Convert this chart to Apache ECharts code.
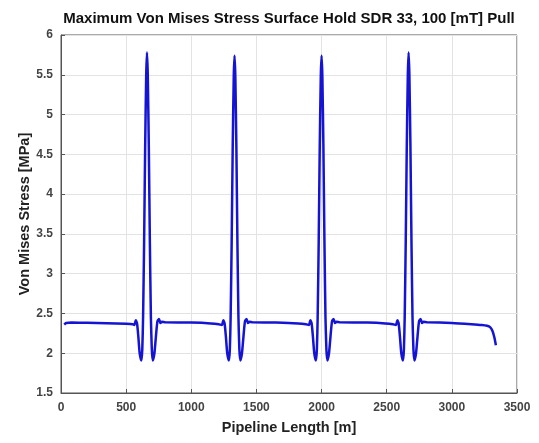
<!DOCTYPE html>
<html>
<head>
<meta charset="utf-8">
<script src="https://cdn.jsdelivr.net/npm/echarts@6/dist/echarts.min.js"></script>
<style>html,body{margin:0;padding:0;background:#fff}#c{width:539px;height:443px}</style>
</head>
<body>
<div id="c"></div>
<script>
var chartTitle = 'Maximum Von Mises Stress Surface Hold SDR 33, 100 [mT] Pull';
var xName = 'Pipeline Length [m]';
var yName = 'Von Mises Stress [MPa]';
var xTicks = [0, 500, 1000, 1500, 2000, 2500, 3000, 3500];
var yTicks = [1.5, 2, 2.5, 3, 3.5, 4, 4.5, 5, 5.5, 6];

var lengths = [
  25, 40, 80, 200, 350, 500, 550,
  563, 574, 584, 594, 604, 617, 624, 630, 638, 646, 654, 660, 666, 674, 682, 690, 697, 704, 717, 728, 740, 752, 763, 775, 800,
  1000, 1150, 1210,
  1235, 1246, 1256, 1266, 1276, 1289, 1296, 1302, 1310, 1318, 1326, 1332, 1338, 1346, 1354, 1362, 1369, 1376, 1389, 1400, 1412, 1424, 1435, 1447, 1470,
  1650, 1820, 1880,
  1903, 1914, 1924, 1934, 1944, 1957, 1964, 1970, 1978, 1986, 1994, 2000, 2006, 2014, 2022, 2030, 2037, 2044, 2057, 2068, 2080, 2092, 2103, 2115, 2140,
  2350, 2490, 2548,
  2571, 2582, 2592, 2602, 2612, 2625, 2632, 2638, 2646, 2654, 2662, 2668, 2674, 2682, 2690, 2698, 2705, 2712, 2725, 2736, 2748, 2760, 2771, 2783, 2810,
  3000, 3150, 3230, 3270, 3295, 3312, 3326, 3338
];
var stress = [
  2.36, 2.38, 2.385, 2.383, 2.378, 2.37, 2.365,
  2.355, 2.415, 2.37, 2.2, 2.0, 1.91, 2.05, 2.45, 3.4, 4.6, 5.5, 5.78, 5.5, 4.6, 3.4, 2.45, 2.05, 1.91, 2.0, 2.2, 2.4, 2.43, 2.38, 2.395, 2.39,
  2.385, 2.375, 2.365,
  2.355, 2.415, 2.37, 2.2, 2.0, 1.91, 2.05, 2.45, 3.4, 4.6, 5.48, 5.74, 5.48, 4.6, 3.4, 2.45, 2.05, 1.91, 2.0, 2.2, 2.4, 2.43, 2.38, 2.395, 2.39,
  2.385, 2.375, 2.365,
  2.355, 2.415, 2.37, 2.2, 2.0, 1.91, 2.05, 2.45, 3.4, 4.6, 5.48, 5.74, 5.48, 4.6, 3.4, 2.45, 2.05, 1.91, 2.0, 2.2, 2.4, 2.43, 2.38, 2.395, 2.39,
  2.385, 2.375, 2.365,
  2.355, 2.415, 2.37, 2.2, 2.0, 1.91, 2.05, 2.45, 3.4, 4.6, 5.5, 5.78, 5.5, 4.6, 3.4, 2.45, 2.05, 1.91, 2.0, 2.2, 2.4, 2.43, 2.38, 2.395, 2.39,
  2.38, 2.365, 2.355, 2.345, 2.325, 2.28, 2.2, 2.1
];

var points = lengths.map(function (x, i) { return [x, stress[i]]; });

var chart = echarts.init(document.getElementById('c'));
var font = 'Liberation Sans, Arial, sans-serif';
chart.setOption({
  animation: false,
  title: {
    text: chartTitle,
    left: 284, top: 6, textAlign: 'center',
    textStyle: { fontFamily: font, fontWeight: 'bold', fontSize: 15, color: '#111' }
  },
  grid: { left: 61, right: 22, top: 35, bottom: 50, show: true, borderColor: '#555', borderWidth: 1, backgroundColor: '#fff' },
  xAxis: {
    type: 'value', min: xTicks[0], max: xTicks[xTicks.length - 1], interval: 500,
    name: xName, nameLocation: 'middle', nameGap: 27,
    nameTextStyle: { fontFamily: font, fontWeight: 'bold', fontSize: 14.5, color: '#222' },
    axisLine: { show: true, lineStyle: { color: '#555' } },
    axisTick: { show: true, inside: true, length: 4, lineStyle: { color: '#555' } },
    axisLabel: { fontFamily: font, fontWeight: 'bold', fontSize: 12, color: '#444', margin: 9,
      formatter: function (v) { return String(v); } },
    splitLine: { show: true, lineStyle: { color: '#e3e3e3', width: 1 } }
  },
  yAxis: {
    type: 'value', min: yTicks[0], max: yTicks[yTicks.length - 1], interval: 0.5,
    name: yName, nameLocation: 'middle', nameGap: 29, nameMoveOverlap: false,
    nameTextStyle: { fontFamily: font, fontWeight: 'bold', fontSize: 14.5, color: '#222' },
    axisLine: { show: true, lineStyle: { color: '#555' } },
    axisTick: { show: true, inside: true, length: 4, lineStyle: { color: '#555' } },
    axisLabel: { fontFamily: font, fontWeight: 'bold', fontSize: 12, color: '#444', margin: 8,
      formatter: function (v) { return String(v); } },
    splitLine: { show: true, lineStyle: { color: '#e3e3e3', width: 1 } }
  },
  series: [{
    type: 'line', data: points, showSymbol: false, smooth: 0.2,
    lineStyle: { color: '#1414d2', width: 2.5 }
  }]
});
</script>
</body>
</html>
